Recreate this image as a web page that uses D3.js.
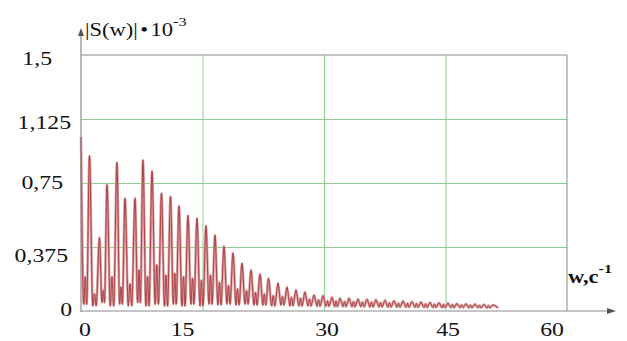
<!DOCTYPE html>
<html>
<head>
<meta charset="utf-8">
<script src="https://cdn.jsdelivr.net/npm/d3@7"></script>
<style>
  body { margin: 0; background: #fff; }
  text { font-family: "Liberation Serif", "Times New Roman", serif; fill: #111; }
</style>
</head>
<body>
<svg></svg>
<script>
// peak positions (w) and heights of the main lobes
var peakW = [0, 1.05, 2.28, 3.21, 4.44, 5.43, 6.67, 7.65, 8.77, 9.94,
  11.05, 12.1, 13.21, 14.32, 15.43, 16.54, 17.65, 18.77, 19.88, 20.99,
  22.1, 23.15, 24.32, 25.43, 26.54, 27.65, 28.77, 29.88, 30.99, 31.98,
  33.09, 34.2, 35.31, 36.42, 37.53, 38.64, 39.75, 40.86, 41.98, 43.09,
  44.2, 45.31, 46.42, 47.53, 48.64, 49.75, 50.86];
var peakV = [1.02, 0.91, 0.43, 0.74, 0.87, 0.66, 0.66, 0.885, 0.82, 0.69,
  0.67, 0.615, 0.56, 0.545, 0.50, 0.445, 0.38, 0.34, 0.28, 0.24,
  0.217, 0.19, 0.164, 0.14, 0.123, 0.111, 0.094, 0.09, 0.08, 0.075,
  0.075, 0.07, 0.068, 0.065, 0.062, 0.06, 0.058, 0.055, 0.052, 0.05,
  0.048, 0.046, 0.044, 0.042, 0.04, 0.038, 0.035];
// small side lobes between main lobes
var bumpV = [0.20, 0.10, 0.12, 0.20, 0.14, 0.16, 0.24, 0.20, 0.27, 0.21,
  0.22, 0.20, 0.19, 0.18, 0.21, 0.17, 0.15, 0.13, 0.12, 0.11,
  0.10, 0.09, 0.085, 0.08, 0.075, 0.07, 0.065, 0.06, 0.058, 0.056,
  0.055, 0.053, 0.052, 0.05, 0.048, 0.046, 0.045, 0.044, 0.042, 0.04,
  0.039, 0.038, 0.036, 0.035, 0.033, 0.032];
// minima
var lowV = [0.04, 0.03, 0.05, 0.03, 0.04, 0.03, 0.05, 0.03, 0.04, 0.03,
  0.04, 0.03, 0.04, 0.03, 0.04, 0.035, 0.04, 0.035, 0.04, 0.035,
  0.035, 0.03, 0.035, 0.03, 0.03, 0.03, 0.028, 0.028, 0.026, 0.026,
  0.025, 0.025, 0.024, 0.024, 0.023, 0.023, 0.022, 0.022, 0.021, 0.021,
  0.02, 0.02, 0.02, 0.019, 0.019, 0.018];

var xGrid = [15, 30, 45];
var yGrid = [0.375, 0.75, 1.125];
var xTicks = [0, 15, 30, 45, 60];
var xTickText = ["0", "15", "30", "45", "60"];
var yTicks = [0, 0.375, 0.75, 1.125, 1.5];
var yTickText = ["0", "0,375", "0,75", "1,125", "1,5"];

var width = 627, height = 341;
var svg = d3.select("svg").attr("width", width).attr("height", height);

var xScale = d3.scaleLinear().domain([0, 60]).range([81, 567]);
var yScale = d3.scaleLinear().domain([0, 1.5]).range([311, 55]);

var grid = "#8fcf8f", axisCol = "#8a8a8a";

// grid
svg.append("g")
   .attr("transform", "translate(0," + yScale(0) + ")")
   .call(d3.axisBottom(xScale).tickValues(xGrid).tickSize(-(yScale(0) - yScale(1.5))).tickFormat(""))
   .call(function(g){ g.select(".domain").remove(); g.selectAll("line").attr("stroke", grid); });

svg.append("g")
   .attr("transform", "translate(" + xScale(0) + ",0)")
   .call(d3.axisLeft(yScale).tickValues(yGrid).tickSize(-(xScale(60) - xScale(0))).tickFormat(""))
   .call(function(g){ g.select(".domain").remove(); g.selectAll("line").attr("stroke", grid); });

// frame top / right
svg.append("line").attr("x1", xScale(0)).attr("x2", xScale(60))
   .attr("y1", yScale(1.5)).attr("y2", yScale(1.5)).attr("stroke", axisCol);
svg.append("line").attr("x1", xScale(60)).attr("x2", xScale(60))
   .attr("y1", yScale(1.5)).attr("y2", yScale(0)).attr("stroke", axisCol);

// curve
var pts = [];
for (var i = 0; i < peakW.length; i++) {
  pts.push([peakW[i], peakV[i]]);
  if (i < peakW.length - 1) {
    var d = peakW[i + 1] - peakW[i];
    pts.push([peakW[i] + 0.33 * d, lowV[i]]);
    pts.push([peakW[i] + 0.5 * d, bumpV[i]]);
    pts.push([peakW[i] + 0.67 * d, lowV[i]]);
  }
}
pts.push([51.5, 0.018]);

var line = d3.line()
  .x(function(p){ return xScale(p[0]); })
  .y(function(p){ return yScale(p[1]); })
  .curve(d3.curveMonotoneX);

svg.append("path").datum(pts)
   .attr("d", line)
   .attr("fill", "none")
   .attr("stroke", "#d9a0a2")
   .attr("stroke-width", 2.6);
svg.append("path").datum(pts)
   .attr("d", line)
   .attr("fill", "none")
   .attr("stroke", "#a8383c")
   .attr("stroke-width", 0.9);

// axes with arrows
svg.append("line").attr("x1", xScale(0)).attr("x2", xScale(0))
   .attr("y1", yScale(0) + 1).attr("y2", 34).attr("stroke", axisCol).attr("stroke-width", 1.2);
svg.append("line").attr("x1", xScale(0)).attr("x2", 610)
   .attr("y1", yScale(0)).attr("y2", yScale(0)).attr("stroke", axisCol).attr("stroke-width", 1.2);
svg.append("path").attr("d", "M81,28 L78,36 L84,36 Z").attr("fill", "#555");
svg.append("path").attr("d", "M616,311 L607,308 L607,314 Z").attr("fill", "#555");

// text is drawn a bit wider than the font, as in the original picture
function wide(x, y) {
  return svg.append("g").attr("transform", "translate(" + x + "," + y + ") scale(1.25,1)")
            .append("text");
}

// tick labels
var xDx = [4, -20, 3, 2.5, -15];
xTicks.forEach(function(v, k){
  wide(xScale(v) + xDx[k], 336)
    .attr("text-anchor", "middle")
    .attr("font-size", 19)
    .text(xTickText[k]);
});

var yLabX = [72, 68, 63, 71, 52];
var yDy = [-2, 8, -1, 3, 3];
yTicks.forEach(function(v, k){
  wide(yLabX[k], yScale(v) + yDy[k])
    .attr("dy", "0.35em")
    .attr("text-anchor", "end")
    .attr("font-size", 19)
    .text(yTickText[k]);
});

// axis titles
var yt = wide(85, 36).attr("font-size", 18);
yt.append("tspan").text("|S(w)|");
yt.append("tspan").attr("dx", 2).text("\u2022");
yt.append("tspan").attr("dx", 2).text("10");
yt.append("tspan").attr("dy", -10).attr("font-size", 13).text("-3");

var xt = wide(568, 283).attr("font-size", 18).attr("font-weight", "bold");
xt.append("tspan").text("w,c");
xt.append("tspan").attr("dy", -10).attr("font-size", 13).text("-1");
</script>
</body>
</html>
